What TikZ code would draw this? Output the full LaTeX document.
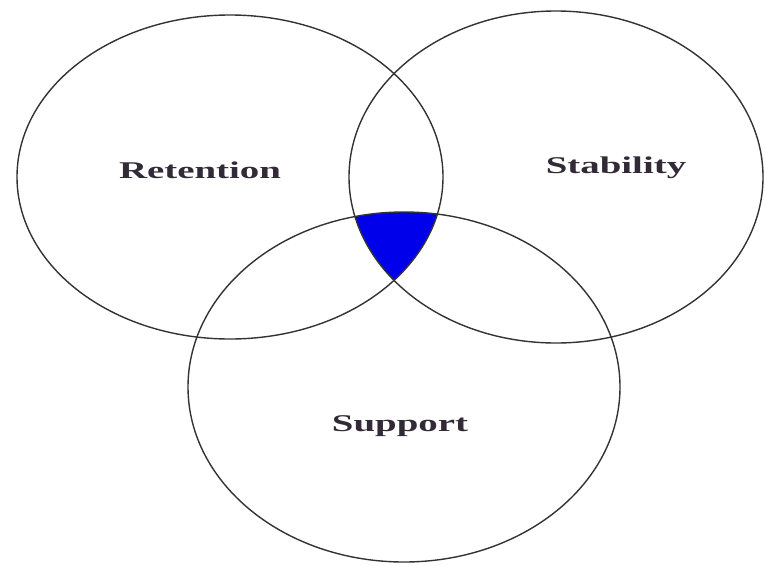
\documentclass[tikz,border=0pt]{standalone}
\usepackage{fontspec}
\setmainfont{Liberation Serif}
\definecolor{txt}{RGB}{50,42,55}
\definecolor{fillblue}{RGB}{0,0,235}
\begin{document}
\begin{tikzpicture}[x=1pt,y=-1pt,
  ring/.style={draw=black!80,line width=1.4pt},
  lbl/.style={text=txt,font=\bfseries\fontsize{24}{24}\selectfont,xscale=1.62,inner sep=0pt}]
\useasboundingbox (0,0) rectangle (765,565);
\begin{scope}
  \clip (230,177) ellipse [x radius=213, y radius=162];
  \clip (556,177) ellipse [x radius=207, y radius=166];
  \fill[fillblue] (404,387) ellipse [x radius=216, y radius=175];
\end{scope}
\draw[ring] (230,177) ellipse [x radius=213, y radius=162];
\draw[ring] (556,177) ellipse [x radius=207, y radius=166];
\draw[ring] (404,387) ellipse [x radius=216, y radius=175];
\node[lbl] (ret) at (200,170) {Retention};
\node[lbl] (sta) at (616,168) {Stability};
\node[lbl] (sup) at (400,426) {Support};
\end{tikzpicture}
\end{document}
